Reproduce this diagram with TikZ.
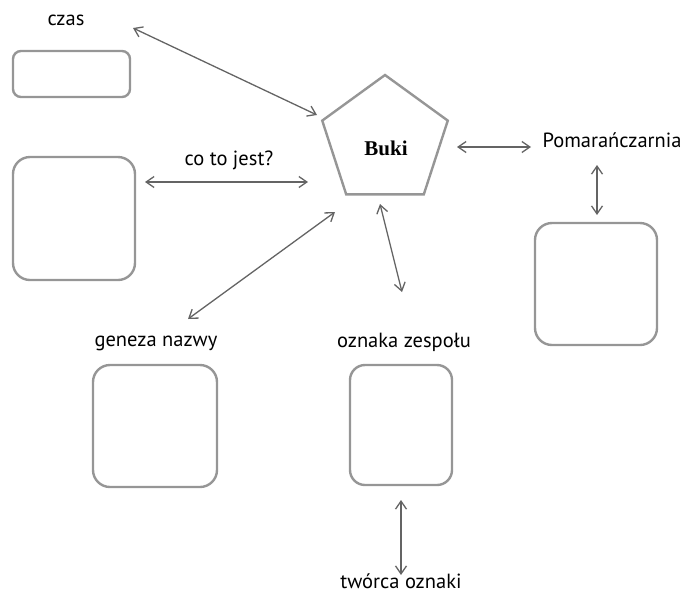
\documentclass[tikz,border=0pt]{standalone}
\usepackage{fontspec}
\setmainfont{PT Sans}
\newfontfamily\bukifont{Liberation Serif}
\usetikzlibrary{arrows.meta,shapes.geometric}
\definecolor{boxgray}{RGB}{150,150,150}
\definecolor{arrgray}{RGB}{100,100,100}
\tikzset{
  frame/.style={draw=boxgray, line width=2.4pt, rounded corners=#1, inner sep=0pt},
  frame/.default=17pt,
  lbl/.style={anchor=base, inner sep=0pt, font=\fontsize{20.5}{23}\selectfont},
  link/.style={draw=arrgray, line width=1.3pt, {Straight Barb[length=8pt,width=11pt]}-{Straight Barb[length=8pt,width=11pt]}},
}
\begin{document}
\begin{tikzpicture}[x=1pt,y=-1pt]
\useasboundingbox (0,0) rectangle (687,595);
% pentagon
\node[regular polygon, regular polygon sides=5, minimum size=132pt, inner sep=0pt,
      draw=boxgray, line width=2.4pt] (buki) at (385,141) {};
\node[anchor=base, inner sep=0pt, font=\bukifont\bfseries\fontsize{21}{22}\selectfont] (bukitxt) at (386,155) {Buki};
% boxes
\node[frame=8pt, minimum width=117pt, minimum height=46pt] (bczas) at (71.5,74) {};
\node[frame, minimum width=122pt, minimum height=123pt] (bco) at (74,218.5) {};
\node[frame, minimum width=122pt, minimum height=122pt] (bpom) at (596,284) {};
\node[frame, minimum width=124pt, minimum height=122pt] (bgen) at (155,426) {};
\node[frame=15pt, minimum width=102pt, minimum height=120pt] (bozn) at (401,425) {};
% labels
\node[lbl] (czas) at (66,25) {czas};
\node[lbl] (co) at (229,165) {co to jest?};
\node[lbl] (pom) at (612,147) {Pomarańczarnia};
\node[lbl] (gen) at (156,346) {geneza nazwy};
\node[lbl] (ozn) at (404,347) {oznaka zespołu};
\node[lbl] (tw) at (401,588) {twórca oznaki};
% arrow ends
\coordinate (a1) at (133,28);  \coordinate (a2) at (317,115);
\coordinate (b1) at (145,182); \coordinate (b2) at (308,182);
\coordinate (c1) at (188,319); \coordinate (c2) at (335,212);
\coordinate (d1) at (380,204); \coordinate (d2) at (402,292);
\coordinate (e1) at (457,147); \coordinate (e2) at (531,147);
\coordinate (f1) at (597,165); \coordinate (f2) at (597,215);
\coordinate (g1) at (401,500); \coordinate (g2) at (401,575);
\draw[link] (a1) -- (a2);
\draw[link] (b1) -- (b2);
\draw[link] (c1) -- (c2);
\draw[link] (d1) -- (d2);
\draw[link] (e1) -- (e2);
\draw[link] (f1) -- (f2);
\draw[link] (g1) -- (g2);
\end{tikzpicture}
\end{document}
